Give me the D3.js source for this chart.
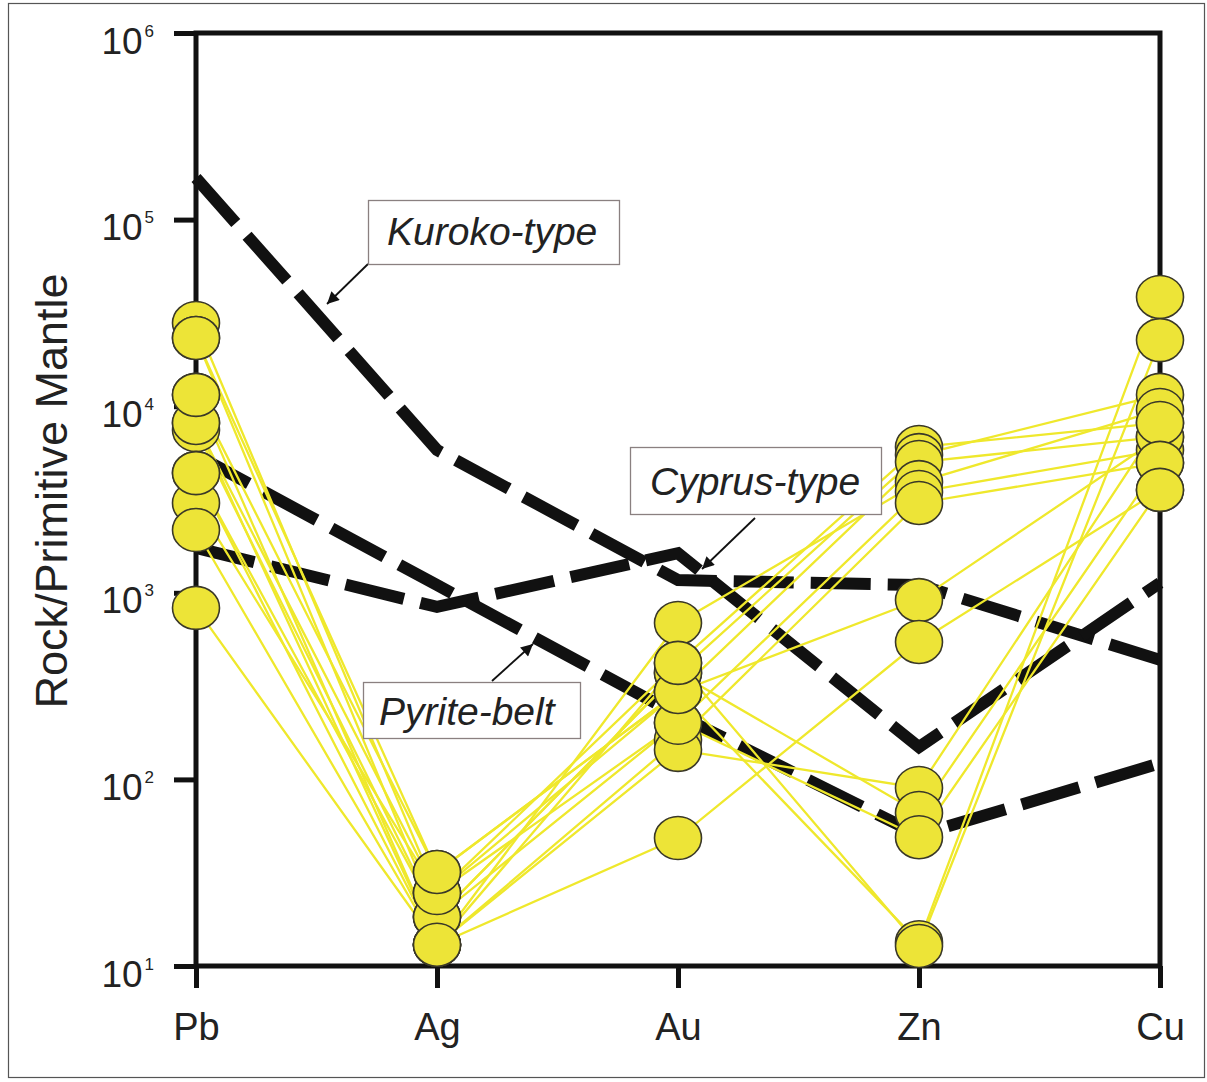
<!DOCTYPE html>
<html>
<head>
<meta charset="utf-8">
<script src="https://cdn.jsdelivr.net/npm/d3@7"></script>
<style>
  body { margin: 0; background: #fff; }
  svg { display: block; font-family: "Liberation Sans", Arial, Helvetica, sans-serif; }
</style>
</head>
<body>
<svg id="chart" width="1207" height="1082"></svg>
<script>
const elements = ["Pb", "Ag", "Au", "Zn", "Cu"];

// one value per sample (rock / primitive mantle)
const pb = [27900, 23200, 11500, 8130, 7450, 4380, 3030, 2170, 830, 4380, 8130, 23200, 11500];
const ag = [24.6, 18.3, 31.9, 13.0, 18.3, 13.0, 24.6, 13.0, 13.0, 18.3, 24.6, 31.9, 13.0];
const au = [421, 372, 294, 689, 201, 163, 294, 48.5, 144, 372, 201, 294, 421];
const zn = [6040, 5470, 5020, 3920, 3470, 3030, 914, 545, 90, 66, 49, 13.4, 12.8];
const cu = [8130, 11500, 6840, 9550, 5820, 4970, 6840, 3560, 8130, 4970, 3560, 38500, 22600];

// reference deposit patterns
const kuroko = [167000, 5820, 1170, 1100, 437];
const cyprus = [1740, 840, 1630, 149, 1130];
const pyrite = [5470, 1100, 221, 50.4, 122];

const yTicks = [1e1, 1e2, 1e3, 1e4, 1e5, 1e6];

const samples = pb.map((v, i) => [pb[i], ag[i], au[i], zn[i], cu[i]]);

const svg = d3.select("#chart");

// outer frame of the figure
svg.append("rect")
  .attr("x", 8.5).attr("y", 3.5)
  .attr("width", 1196).attr("height", 1074)
  .attr("fill", "none").attr("stroke", "#555").attr("stroke-width", 1.2);

const x = d3.scalePoint().domain(elements).range([196, 1160]);
const y = d3.scaleLog().domain([10, 1e6]).range([966, 33]);

const line = d3.line()
  .x((d, i) => x(elements[i]))
  .y(d => y(d));

// dashed reference lines
svg.append("g")
  .selectAll("path")
  .data([kuroko, cyprus, pyrite])
  .join("path")
  .attr("d", line)
  .attr("fill", "none")
  .attr("stroke", "#111")
  .attr("stroke-width", 12)
  .attr("stroke-dasharray", "60,17")
  .attr("stroke-linejoin", "miter");

// sample lines
svg.append("g")
  .selectAll("path")
  .data(samples)
  .join("path")
  .attr("d", line)
  .attr("fill", "none")
  .attr("stroke", "#efe82c")
  .attr("stroke-width", 2.3);

// axes frame
svg.append("rect")
  .attr("x", x("Pb")).attr("y", y(1e6))
  .attr("width", x("Cu") - x("Pb"))
  .attr("height", y(10) - y(1e6))
  .attr("fill", "none")
  .attr("stroke", "#111")
  .attr("stroke-width", 5);

const yAxis = svg.append("g")
  .attr("transform", `translate(${x("Pb")},0)`)
  .call(d3.axisLeft(y).tickValues(yTicks).tickSize(22).tickSizeOuter(0).tickFormat(""));
yAxis.select(".domain").remove();
yAxis.selectAll(".tick line").attr("stroke", "#111").attr("stroke-width", 5);
yAxis.selectAll(".tick text").remove();
yAxis.selectAll(".tick").each(function(d) {
  const t = d3.select(this).append("text")
    .attr("x", -42)
    .attr("y", 20)
    .attr("text-anchor", "end")
    .attr("fill", "#222")
    .style("font-size", "37px");
  t.append("tspan").text("10");
  t.append("tspan")
    .attr("dy", -17)
    .attr("dx", 2)
    .style("font-size", "17px")
    .text(Math.round(Math.log10(d)));
});

const xAxis = svg.append("g")
  .attr("transform", `translate(0,${y(10)})`)
  .call(d3.axisBottom(x).tickSize(22).tickSizeOuter(0).tickPadding(25));
xAxis.select(".domain").remove();
xAxis.selectAll(".tick line").attr("stroke", "#111").attr("stroke-width", 5);
xAxis.selectAll(".tick text")
  .attr("fill", "#222")
  .style("font-size", "38px")
  .style("font-family", "'Liberation Sans', Arial, sans-serif");

// sample circles
const dots = svg.append("g");
samples.forEach(s => {
  dots.selectAll(null)
    .data(s)
    .join("ellipse")
    .attr("cx", (d, i) => x(elements[i]))
    .attr("cy", d => y(d))
    .attr("rx", 23.5)
    .attr("ry", 21.5)
    .attr("fill", "#ede437")
    .attr("stroke", "#3a3828")
    .attr("stroke-width", 1.6);
});

svg.append("text")
  .attr("transform", "translate(67,491) rotate(-90)")
  .attr("text-anchor", "middle")
  .attr("fill", "#222")
  .style("font-size", "45px")
  .text("Rock/Primitive Mantle");

// annotations
svg.append("defs").append("marker")
  .attr("id", "arrow")
  .attr("markerUnits", "userSpaceOnUse")
  .attr("viewBox", "0 0 10 10")
  .attr("refX", 10).attr("refY", 5)
  .attr("markerWidth", 17).attr("markerHeight", 12)
  .attr("orient", "auto")
  .append("path")
  .attr("d", "M0,0 L10,5 L0,10 Z")
  .attr("fill", "#111");

const notes = [
  { label: "Kuroko-type", box: [368, 200, 251, 64], tx: 387, ty: 245, from: [368, 264], to: [327, 304] },
  { label: "Cyprus-type", box: [630, 447, 251, 67], tx: 650, ty: 495, from: [755, 518], to: [702, 569] },
  { label: "Pyrite-belt", box: [363, 682, 217, 56], tx: 379, ty: 725, from: [492, 681], to: [533, 644] }
];

const note = svg.append("g").selectAll("g").data(notes).join("g");
note.append("line")
  .attr("x1", d => d.from[0]).attr("y1", d => d.from[1])
  .attr("x2", d => d.to[0]).attr("y2", d => d.to[1])
  .attr("stroke", "#111").attr("stroke-width", 1.8)
  .attr("marker-end", "url(#arrow)");
note.append("rect")
  .attr("x", d => d.box[0] + 0.5).attr("y", d => d.box[1] + 0.5)
  .attr("width", d => d.box[2]).attr("height", d => d.box[3])
  .attr("fill", "#fff").attr("stroke", "#8a8080").attr("stroke-width", 1.3);
note.append("text")
  .attr("x", d => d.tx).attr("y", d => d.ty)
  .attr("fill", "#222")
  .style("font-size", "39px")
  .style("font-style", "italic")
  .text(d => d.label);
</script>
</body>
</html>
